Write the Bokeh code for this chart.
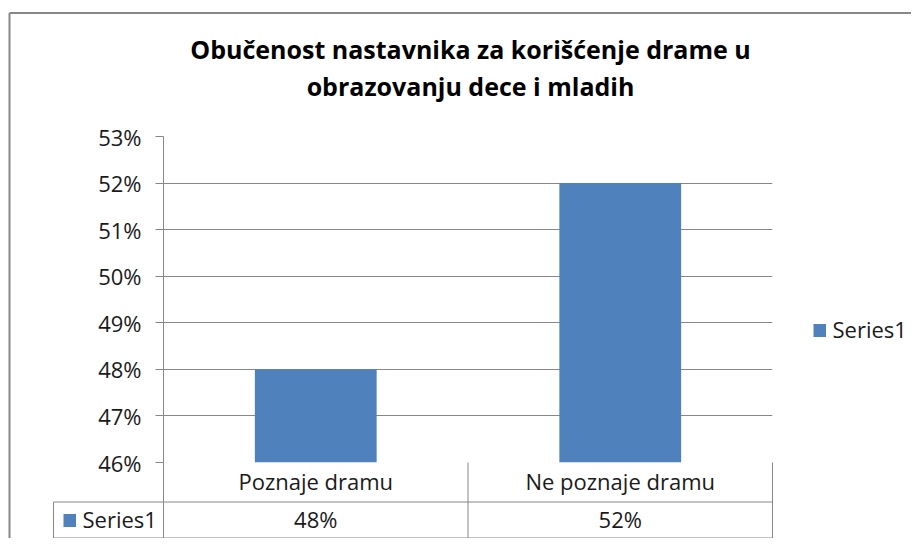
from bokeh.plotting import figure
from bokeh.models import (ColumnDataSource, FactorRange, Range1d, NumeralTickFormatter,
                          FixedTicker)
from bokeh.embed import file_html
from bokeh.resources import INLINE
from bokeh.core.properties import value

# ---- data ----
categories = ["Poznaje dramu", "Ne poznaje dramu"]
values = [0.48, 0.52]
value_labels = ["48%", "52%"]
series_name = "Series1"
y_ticks = [0.46, 0.47, 0.48, 0.49, 0.50, 0.51, 0.52, 0.53]
title_lines = ["Obučenost nastavnika za korišćenje drame u", "obrazovanju dece i mladih"]

# ---- layout constants (figure pixels) ----
W, H = 911, 538
FL, FR, FT, FB = 163, 772, 136, 462
FONT = "Open Sans"
GRID = "#878787"
BAR = "#4F81BD"
TXT = "#1a1a1a"

y0, y1 = y_ticks[0], y_ticks[-1]


def px_x(px):
    return (px - FL) / ((FR - FL) / len(categories))


def px_y(py):
    return y0 + (FB - py) * (y1 - y0) / (FB - FT)


p = figure(width=W, height=H, x_range=FactorRange(*categories),
           y_range=Range1d(y0, y1), output_backend="svg", toolbar_location=None,
           min_border_left=FL, min_border_right=W - FR, min_border_top=FT,
           min_border_bottom=H - FB)
p.outline_line_color = None
p.background_fill_color = "white"
p.border_fill_color = "white"

src = ColumnDataSource(dict(cat=categories, val=values, lab=value_labels))
bars = p.vbar(x="cat", top="val", bottom=y0, width=0.4, fill_color=BAR,
              line_color=None, source=src)

# y axis
ya = p.yaxis[0]
ya.ticker = FixedTicker(ticks=y_ticks)
ya.formatter = NumeralTickFormatter(format="0%")
ya.major_tick_out = 8
ya.major_tick_in = 0
ya.minor_tick_line_color = None
ya.axis_line_color = GRID
ya.major_tick_line_color = GRID
ya.major_label_text_font = FONT
ya.major_label_text_font_size = "22px"
ya.major_label_text_color = TXT
ya.major_label_standoff = 14

# x axis (category row of the data table)
xa = p.xaxis[0]
xa.major_tick_line_color = None
xa.minor_tick_line_color = None
xa.axis_line_color = None
xa.major_label_text_font = FONT
xa.major_label_text_font_size = "22px"
xa.major_label_text_color = TXT
xa.major_label_standoff = -3

p.xgrid.grid_line_color = None
p.ygrid.ticker = FixedTicker(ticks=y_ticks)
p.ygrid.grid_line_color = GRID

# data table lines
t_top, t_mid, t_bot = FB, 501.5, 537.5
xl, xm = 53, 467.5
segs = dict(
    x0=[px_x(FL), px_x(xm), px_x(FR), px_x(xl), px_x(xl), px_x(xl)],
    x1=[px_x(FL), px_x(xm), px_x(FR), px_x(FR), px_x(FR), px_x(xl)],
    y0=[px_y(t_top), px_y(t_top), px_y(t_top), px_y(t_mid), px_y(t_bot), px_y(t_mid)],
    y1=[px_y(t_bot), px_y(t_bot), px_y(t_bot), px_y(t_mid), px_y(t_bot), px_y(t_bot)],
)
p.segment(x0="x0", y0="y0", x1="x1", y1="y1", source=ColumnDataSource(segs),
          line_color=GRID, line_width=1, level="overlay")

# value row
p.text(x="cat", y=px_y(518), text="lab", source=src, text_align="center",
       text_baseline="middle", text_font=value(FONT), text_font_size="22px",
       text_color=TXT, level="overlay")

# legend keys: inside the data table and on the right of the chart
key_src = ColumnDataSource(dict(kx0=[px_x(63), px_x(813)], kx1=[px_x(75.5), px_x(825.5)],
                                ky=[px_y(520), px_y(330)],
                                tx=[px_x(82), px_x(832)], ty=[px_y(518), px_y(328)],
                                name=[series_name, series_name]))
p.segment(x0="kx0", x1="kx1", y0="ky", y1="ky", source=key_src, line_color=BAR,
          line_width=13, line_cap="butt", level="overlay")
p.text(x="tx", y="ty", text="name", source=key_src, text_align="left",
       text_baseline="middle", text_font=value(FONT), text_font_size="22px",
       text_color=TXT, level="overlay")

# chart border (left & top)
p.segment(x0=[px_x(9), px_x(9)], y0=[px_y(12.5), px_y(12.5)],
          x1=[px_x(9), px_x(W)], y1=[px_y(H), px_y(12.5)],
          line_color="#878787", line_width=2, level="overlay")

# title
p.text(x=[px_x(470), px_x(470)], y=[px_y(48), px_y(85)], text=title_lines,
       text_align="center", text_baseline="middle", text_font=value(FONT),
       text_font_style="bold", text_font_size="25px", text_color="black",
       level="overlay")

open("out.html", "w").write(file_html(p, INLINE))
